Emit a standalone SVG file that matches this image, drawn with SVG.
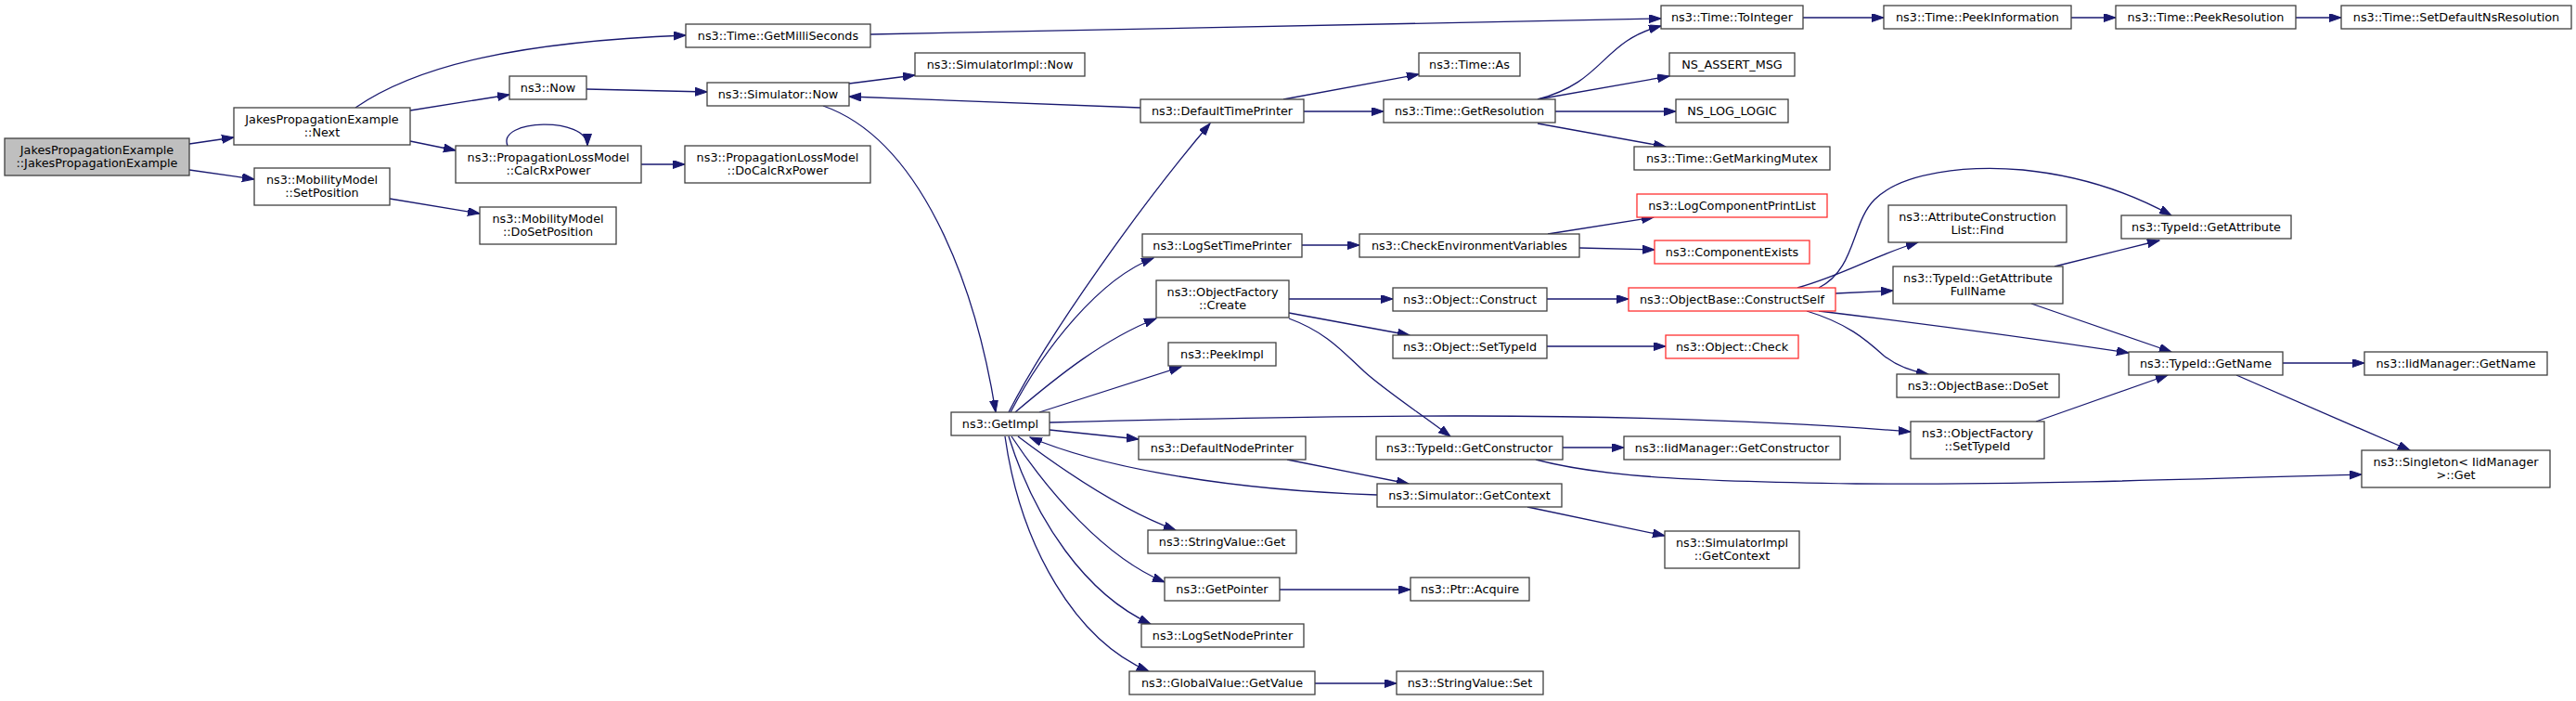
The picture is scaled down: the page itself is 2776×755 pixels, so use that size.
<svg xmlns="http://www.w3.org/2000/svg" width="2776" height="755" viewBox="0 0 2776 755">
<style>
.n rect{fill:#fff;stroke:#404040;stroke-width:1.3}
.r rect{stroke:#ff3030}
.g rect{fill:#bfbfbf}
text{font-family:"DejaVu Sans","Liberation Sans",sans-serif;font-size:12.8px;fill:#000;text-anchor:middle}
#edges path{fill:none;stroke:#191970;stroke-width:1.3;marker-end:url(#a)}
</style>
<defs>
<marker id="a" markerUnits="userSpaceOnUse" markerWidth="14" markerHeight="10" refX="13" refY="4.5" orient="auto"><path d="M0,0 L13,4.5 L0,9 z" fill="#191970" stroke="#191970" stroke-width="1"/></marker>
</defs>
<rect width="2776" height="755" fill="#fff"/>
<g id="edges">
<path d="M204,155 L252,148"/>
<path d="M204,183 L274,193"/>
<path d="M383,116 C450,70 560,45 739,38"/>
<path d="M442,119 L549,102"/>
<path d="M442,152 L491,162"/>
<path d="M547,157 C535,128 633,125 633,157"/>
<path d="M691,177 L738,177"/>
<path d="M420,214 L517,230"/>
<path d="M938,37 C1300,30 1600,22 1790,20"/>
<path d="M632,96 L762,99"/>
<path d="M915,90 L986,81"/>
<path d="M887,114 C990,150 1050,300 1073,444"/>
<path d="M1229,116 L915,104"/>
<path d="M1383,107 L1529,80"/>
<path d="M1405,120 L1491,120"/>
<path d="M1657,107 C1730,88 1725,45 1790,28"/>
<path d="M1657,107 L1799,82"/>
<path d="M1676,120 L1806,120"/>
<path d="M1657,133 L1795,158"/>
<path d="M1943,19 L2030,19"/>
<path d="M2232,19 L2280,19"/>
<path d="M2474,19 L2523,19"/>
<path d="M1087,444 C1130,360 1230,220 1304,133"/>
<path d="M1089,444 C1125,375 1185,300 1243,278"/>
<path d="M1094,444 C1140,405 1190,365 1246,343"/>
<path d="M1120,444 L1273,395"/>
<path d="M1131,455 C1400,448 1750,440 2059,465"/>
<path d="M1131,463 L1227,473"/>
<path d="M1484,533 C1330,528 1190,505 1110,471"/>
<path d="M1097,470 C1150,510 1210,550 1267,571"/>
<path d="M1090,470 C1130,530 1190,600 1255,627"/>
<path d="M1087,470 C1115,560 1170,640 1240,672"/>
<path d="M1083,470 C1100,590 1160,690 1238,723"/>
<path d="M1403,264 L1465,264"/>
<path d="M1668,252 L1782,234"/>
<path d="M1702,267 L1783,269"/>
<path d="M1389,322 L1501,322"/>
<path d="M1389,337 L1519,361"/>
<path d="M1389,343 C1430,358 1448,380 1470,400 S1530,445 1563,470"/>
<path d="M1667,322 L1755,322"/>
<path d="M1667,373 L1795,373"/>
<path d="M1960,310 C2000,290 1995,240 2020,215 C2050,185 2120,178 2180,183 C2250,190 2300,210 2340,232"/>
<path d="M1937,310 C1990,295 2020,275 2067,261"/>
<path d="M1978,316 L2040,313"/>
<path d="M1960,335 C2100,352 2200,366 2294,380"/>
<path d="M1947,335 C1990,348 2010,365 2030,383 C2045,395 2060,400 2078,403"/>
<path d="M2214,287 L2327,259"/>
<path d="M2189,327 L2340,379"/>
<path d="M2194,454 L2336,404"/>
<path d="M2460,391 L2548,391"/>
<path d="M2410,404 L2597,485"/>
<path d="M1684,482 L1750,482"/>
<path d="M1655,495 C1720,512 1800,518 2000,521 C2200,522 2400,515 2545,511"/>
<path d="M1387,495 L1518,521"/>
<path d="M1646,546 L1794,577"/>
<path d="M1379,635 L1520,635"/>
<path d="M1417,736 L1505,736"/>
</g>
<g id="root" class="n g"><rect x="5" y="149" width="199" height="40"/><text x="104.5" y="166">JakesPropagationExample</text><text x="104.5" y="180">::JakesPropagationExample</text></g>
<g id="next" class="n"><rect x="252" y="116" width="190" height="40"/><text x="347" y="133">JakesPropagationExample</text><text x="347" y="147">::Next</text></g>
<g id="setpos" class="n"><rect x="274" y="181" width="146" height="40"/><text x="347" y="198">ns3::MobilityModel</text><text x="347" y="212">::SetPosition</text></g>
<g id="now" class="n"><rect x="549" y="82" width="83" height="25"/><text x="590.5" y="99">ns3::Now</text></g>
<g id="calcrx" class="n"><rect x="491" y="157" width="200" height="40"/><text x="591" y="174">ns3::PropagationLossModel</text><text x="591" y="188">::CalcRxPower</text></g>
<g id="dosetpos" class="n"><rect x="517" y="223" width="147" height="40"/><text x="590.5" y="240">ns3::MobilityModel</text><text x="590.5" y="254">::DoSetPosition</text></g>
<g id="getmilli" class="n"><rect x="739" y="26" width="199" height="25"/><text x="838.5" y="43">ns3::Time::GetMilliSeconds</text></g>
<g id="simnow" class="n"><rect x="762" y="89" width="153" height="25"/><text x="838.5" y="106">ns3::Simulator::Now</text></g>
<g id="simimplnow" class="n"><rect x="986" y="57" width="183" height="25"/><text x="1077.5" y="74">ns3::SimulatorImpl::Now</text></g>
<g id="docalcrx" class="n"><rect x="738" y="157" width="200" height="40"/><text x="838" y="174">ns3::PropagationLossModel</text><text x="838" y="188">::DoCalcRxPower</text></g>
<g id="dtp" class="n"><rect x="1229" y="107" width="176" height="25"/><text x="1317" y="124">ns3::DefaultTimePrinter</text></g>
<g id="logsettp" class="n"><rect x="1231" y="252" width="172" height="25"/><text x="1317" y="269">ns3::LogSetTimePrinter</text></g>
<g id="create" class="n"><rect x="1246" y="302" width="143" height="40"/><text x="1317.5" y="319">ns3::ObjectFactory</text><text x="1317.5" y="333">::Create</text></g>
<g id="peekimpl" class="n"><rect x="1259" y="369" width="116" height="25"/><text x="1317" y="386">ns3::PeekImpl</text></g>
<g id="getimpl" class="n"><rect x="1025" y="444" width="106" height="25"/><text x="1078" y="461">ns3::GetImpl</text></g>
<g id="dnp" class="n"><rect x="1227" y="470" width="180" height="25"/><text x="1317" y="487">ns3::DefaultNodePrinter</text></g>
<g id="svget" class="n"><rect x="1237" y="571" width="160" height="25"/><text x="1317" y="588">ns3::StringValue::Get</text></g>
<g id="getpointer" class="n"><rect x="1255" y="622" width="124" height="25"/><text x="1317" y="639">ns3::GetPointer</text></g>
<g id="logsetnp" class="n"><rect x="1230" y="672" width="175" height="25"/><text x="1317.5" y="689">ns3::LogSetNodePrinter</text></g>
<g id="globalvalue" class="n"><rect x="1217" y="723" width="200" height="25"/><text x="1317" y="740">ns3::GlobalValue::GetValue</text></g>
<g id="tointeger" class="n"><rect x="1790" y="6" width="153" height="25"/><text x="1866.5" y="23">ns3::Time::ToInteger</text></g>
<g id="as" class="n"><rect x="1529" y="57" width="109" height="25"/><text x="1583.5" y="74">ns3::Time::As</text></g>
<g id="getres" class="n"><rect x="1491" y="107" width="185" height="25"/><text x="1583.5" y="124">ns3::Time::GetResolution</text></g>
<g id="nsassert" class="n"><rect x="1799" y="57" width="135" height="25"/><text x="1866.5" y="74">NS_ASSERT_MSG</text></g>
<g id="nslog" class="n"><rect x="1806" y="107" width="121" height="25"/><text x="1866.5" y="124">NS_LOG_LOGIC</text></g>
<g id="mutex" class="n"><rect x="1761" y="158" width="211" height="25"/><text x="1866.5" y="175">ns3::Time::GetMarkingMutex</text></g>
<g id="logcomp" class="n r"><rect x="1764" y="209" width="205" height="25"/><text x="1866.5" y="226">ns3::LogComponentPrintList</text></g>
<g id="compexists" class="n r"><rect x="1783" y="259" width="167" height="25"/><text x="1866.5" y="276">ns3::ComponentExists</text></g>
<g id="cev" class="n"><rect x="1465" y="252" width="237" height="25"/><text x="1583.5" y="269">ns3::CheckEnvironmentVariables</text></g>
<g id="construct" class="n"><rect x="1501" y="310" width="166" height="25"/><text x="1584" y="327">ns3::Object::Construct</text></g>
<g id="constructself" class="n r"><rect x="1755" y="310" width="223" height="25"/><text x="1866.5" y="327">ns3::ObjectBase::ConstructSelf</text></g>
<g id="objsettypeid" class="n"><rect x="1501" y="361" width="166" height="25"/><text x="1584" y="378">ns3::Object::SetTypeId</text></g>
<g id="check" class="n r"><rect x="1795" y="361" width="143" height="25"/><text x="1866.5" y="378">ns3::Object::Check</text></g>
<g id="attrfind" class="n"><rect x="2035" y="221" width="192" height="40"/><text x="2131" y="238">ns3::AttributeConstruction</text><text x="2131" y="252">List::Find</text></g>
<g id="gafn" class="n"><rect x="2040" y="287" width="183" height="40"/><text x="2131.5" y="304">ns3::TypeId::GetAttribute</text><text x="2131.5" y="318">FullName</text></g>
<g id="doset" class="n"><rect x="2044" y="403" width="175" height="25"/><text x="2131.5" y="420">ns3::ObjectBase::DoSet</text></g>
<g id="ofsettypeid" class="n"><rect x="2059" y="454" width="144" height="40"/><text x="2131" y="471">ns3::ObjectFactory</text><text x="2131" y="485">::SetTypeId</text></g>
<g id="getconstructor" class="n"><rect x="1483" y="470" width="201" height="25"/><text x="1583.5" y="487">ns3::TypeId::GetConstructor</text></g>
<g id="iidgetconstructor" class="n"><rect x="1750" y="470" width="233" height="25"/><text x="1866.5" y="487">ns3::IidManager::GetConstructor</text></g>
<g id="getcontext" class="n"><rect x="1484" y="521" width="199" height="25"/><text x="1583.5" y="538">ns3::Simulator::GetContext</text></g>
<g id="simimplgetcontext" class="n"><rect x="1794" y="572" width="145" height="40"/><text x="1866.5" y="589">ns3::SimulatorImpl</text><text x="1866.5" y="603">::GetContext</text></g>
<g id="acquire" class="n"><rect x="1520" y="622" width="128" height="25"/><text x="1584" y="639">ns3::Ptr::Acquire</text></g>
<g id="svset" class="n"><rect x="1505" y="723" width="158" height="25"/><text x="1584" y="740">ns3::StringValue::Set</text></g>
<g id="peekinfo" class="n"><rect x="2030" y="6" width="202" height="25"/><text x="2131" y="23">ns3::Time::PeekInformation</text></g>
<g id="peekres" class="n"><rect x="2280" y="6" width="194" height="25"/><text x="2377" y="23">ns3::Time::PeekResolution</text></g>
<g id="setdefault" class="n"><rect x="2523" y="6" width="248" height="25"/><text x="2647" y="23">ns3::Time::SetDefaultNsResolution</text></g>
<g id="getattribute" class="n"><rect x="2286" y="232" width="183" height="25"/><text x="2377.5" y="249">ns3::TypeId::GetAttribute</text></g>
<g id="getname" class="n"><rect x="2294" y="379" width="166" height="25"/><text x="2377" y="396">ns3::TypeId::GetName</text></g>
<g id="iidgetname" class="n"><rect x="2548" y="379" width="197" height="25"/><text x="2646.5" y="396">ns3::IidManager::GetName</text></g>
<g id="singleton" class="n"><rect x="2545" y="485" width="203" height="40"/><text x="2646.5" y="502">ns3::Singleton&lt; IidManager</text><text x="2646.5" y="516">&gt;::Get</text></g>
</svg>
